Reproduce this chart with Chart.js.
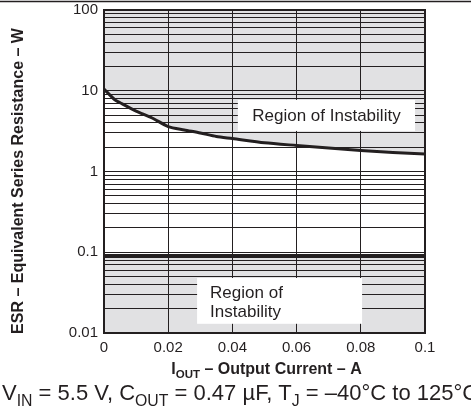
<!DOCTYPE html>
<html>
<head>
<meta charset="utf-8">
<script src="https://cdn.jsdelivr.net/npm/chart.js@4.4.1/dist/chart.umd.min.js"></script>
<style>
  html, body { margin: 0; padding: 0; background: #fff; }
  #wrap { width: 471px; height: 410px; }
</style>
</head>
<body>
<div id="wrap"><canvas id="esrChart" width="471" height="410"></canvas></div>
<script>
// data
const currentA = [0, 0.0034, 0.005, 0.01, 0.015, 0.02, 0.025, 0.03, 0.035, 0.04, 0.05, 0.06, 0.07, 0.08, 0.09, 0.1];
const upperEsr = [10.5, 7.7, 7.1, 5.6, 4.6, 3.6, 3.27, 3.0, 2.71, 2.56, 2.27, 2.1, 1.95, 1.82, 1.72, 1.65];
const lowerCurrent = [0, 0.1];
const lowerEsr = [0.09, 0.09];

const xTicks = [0, 0.02, 0.04, 0.06, 0.08, 0.1];
const xTickLabels = ['0', '0.02', '0.04', '0.06', '0.08', '0.1'];
const yDecades = [0.01, 0.1, 1, 10, 100];
const yTickLabels = ['0.01', '0.1', '1', '10', '100'];

const ink = '#231f20';
const shade = '#e1e1e3';
const font = 'Liberation Sans, Arial, sans-serif';

// every log gridline: 1..9 x each decade
const yGridValues = [];
yDecades.forEach((d, i) => {
  if (i === yDecades.length - 1) { yGridValues.push(d); return; }
  for (let k = 1; k <= 9; k++) yGridValues.push(+(d * k).toPrecision(3));
});

// draws text with subscripts, parts = [[text, isSub], ...]
function drawRich(ctx, parts, x, y, size, bold, align) {
  const w = parts.map(p => {
    ctx.font = (bold ? 'bold ' : '') + (p[1] ? size * 0.72 : size) + 'px ' + font;
    return ctx.measureText(p[0]).width;
  });
  const total = w.reduce((a, b) => a + b, 0);
  let cx = align === 'center' ? x - total / 2 : x;
  parts.forEach((p, i) => {
    ctx.font = (bold ? 'bold ' : '') + (p[1] ? size * 0.72 : size) + 'px ' + font;
    ctx.textAlign = 'left';
    ctx.textBaseline = 'alphabetic';
    ctx.fillText(p[0], cx, p[1] ? y + size * 0.25 : y);
    cx += w[i];
  });
}

const decorations = {
  id: 'decorations',
  afterDraw(chart) {
    const ctx = chart.ctx;
    const xs = chart.scales.x, ys = chart.scales.y;
    const a = chart.chartArea;
    ctx.save();
    ctx.fillStyle = ink;
    ctx.strokeStyle = ink;

    // label boxes
    const box = (x0, x1, y0, y1) => {
      const l = xs.getPixelForValue(x0), r = xs.getPixelForValue(x1);
      const t = ys.getPixelForValue(y0), b = ys.getPixelForValue(y1);
      ctx.fillStyle = '#fff';
      ctx.fillRect(l, t, r - l, b - t);
      ctx.fillStyle = ink;
      return { l, r, t, b };
    };
    const up = box(0.0417, 0.0969, 7.7, 3.18);
    ctx.font = '17px ' + font;
    ctx.textAlign = 'center';
    ctx.textBaseline = 'middle';
    ctx.fillText('Region of Instability', (up.l + up.r) / 2, (up.t + up.b) / 2 + 1);
    const lo = box(0.029, 0.0804, 0.048, 0.013);
    ctx.textAlign = 'left';
    ctx.fillText('Region of', lo.l + 13, lo.t + 15);
    ctx.fillText('Instability', lo.l + 13, lo.t + 34);

    // frame
    ctx.lineWidth = 2;
    ctx.strokeRect(a.left, a.top, a.right - a.left, a.bottom - a.top);

    // rule at the top of the figure
    ctx.lineWidth = 1.5;
    ctx.beginPath();
    ctx.moveTo(0, 1.5);
    ctx.lineTo(chart.width, 1.5);
    ctx.stroke();

    // x title
    drawRich(ctx, [['I', false], ['OUT', true], [' \u2013 Output Current \u2013 A', false]],
      (a.left + a.right) / 2 + 2, 374, 16, true, 'center');

    // y title
    ctx.save();
    ctx.translate(23, 181);
    ctx.rotate(-Math.PI / 2);
    drawRich(ctx, [['ESR \u2013 Equivalent Series Resistance \u2013 W', false]], 0, 0, 16, true, 'center');
    ctx.restore();

    // conditions line
    drawRich(ctx, [['V', false], ['IN', true], [' = 5.5 V, C', false], ['OUT', true],
      [' = 0.47 \u00b5F, T', false], ['J', true], [' = \u201340\u00b0C to 125\u00b0C', false]],
      2, 400, 22, false, 'left');
    ctx.restore();
  }
};

const ctx = document.getElementById('esrChart').getContext('2d');
const esrChart = new Chart(ctx, {
  type: 'line',
  data: {
    datasets: [{
      label: 'Upper limit',
      data: currentA.map((x, i) => ({ x: x, y: upperEsr[i] })),
      borderColor: ink,
      borderWidth: 3,
      backgroundColor: shade,
      pointRadius: 0,
      tension: 0.25,
      fill: 'end'
    }, {
      label: 'Lower limit',
      data: lowerCurrent.map((x, i) => ({ x: x, y: lowerEsr[i] })),
      borderColor: ink,
      borderWidth: 4,
      backgroundColor: shade,
      pointRadius: 0,
      fill: 'start'
    }]
  },
  options: {
    responsive: false,
    animation: false,
    devicePixelRatio: 1,
    layout: { padding: { left: 0, right: 46, top: 10, bottom: 0 } },
    plugins: {
      legend: { display: false },
      tooltip: { enabled: false }
    },
    scales: {
      x: {
        type: 'linear',
        min: 0,
        max: 0.1,
        z: 1,
        afterBuildTicks: s => { s.ticks = xTicks.map(v => ({ value: v })); },
        afterFit: s => { s.height = 77; s.paddingLeft = 0; s.paddingRight = 0; },
        ticks: {
          autoSkip: false,
          maxRotation: 0,
          padding: 6,
          color: ink,
          font: { family: font, size: 15 },
          callback: (v, i) => xTickLabels[i]
        },
        grid: { color: ink, lineWidth: 1, drawTicks: false, z: 1 },
        border: { display: false }
      },
      y: {
        type: 'logarithmic',
        min: 0.01,
        max: 100,
        z: 1,
        afterBuildTicks: s => { s.ticks = yGridValues.map(v => ({ value: v })); },
        afterFit: s => { s.width = 104; s.paddingTop = 0; s.paddingBottom = 0; },
        ticks: {
          autoSkip: false,
          padding: 6,
          color: ink,
          font: { family: font, size: 15 },
          callback: v => {
            const i = yDecades.findIndex(d => Math.abs(d - v) < d * 1e-6);
            return i >= 0 ? yTickLabels[i] : '';
          }
        },
        grid: { color: ink, lineWidth: 1, drawTicks: false, z: 1 },
        border: { display: false }
      }
    }
  },
  plugins: [decorations]
});
</script>
</body>
</html>
